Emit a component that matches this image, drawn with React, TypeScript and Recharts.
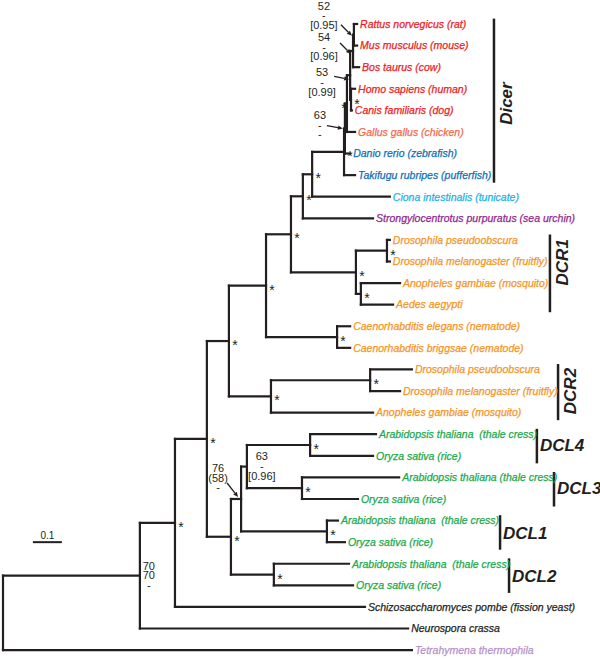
import React from 'react';
import { ScatterChart, XAxis, YAxis, Scatter, ReferenceLine } from 'recharts';

// leaves, top to bottom (row index = position in list)
const leafIds = [
  'rat', 'mouse', 'cow', 'human', 'dog', 'chicken', 'zebrafish', 'pufferfish',
  'tunicate', 'urchin', 'dpse1', 'dmel1', 'agam1', 'aaeg', 'cel', 'cbr',
  'dpse2', 'dmel2', 'agam2', 'at4', 'os4', 'at3', 'os3', 'at1', 'os1', 'at2', 'os2',
  'spom', 'ncra', 'tthe',
];
const leafLabels = [
  'Rattus norvegicus (rat)', 'Mus musculus (mouse)', 'Bos taurus (cow)', 'Homo sapiens (human)',
  'Canis familiaris (dog)', 'Gallus gallus (chicken)', 'Danio rerio (zebrafish)', 'Takifugu rubripes (pufferfish)',
  'Ciona intestinalis (tunicate)', 'Strongylocentrotus purpuratus (sea urchin)',
  'Drosophila pseudoobscura', 'Drosophila melanogaster (fruitfly)', 'Anopheles gambiae (mosquito)', 'Aedes aegypti',
  'Caenorhabditis elegans (nematode)', 'Caenorhabditis briggsae (nematode)',
  'Drosophila pseudoobscura', 'Drosophila melanogaster (fruitfly)', 'Anopheles gambiae (mosquito)',
  'Arabidopsis thaliana  (thale cress)', 'Oryza sativa (rice)',
  'Arabidopsis thaliana (thale cress)', 'Oryza sativa (rice)',
  'Arabidopsis thaliana  (thale cress)', 'Oryza sativa (rice)',
  'Arabidopsis thaliana  (thale cress)', 'Oryza sativa (rice)',
  'Schizosaccharomyces pombe (fission yeast)', 'Neurospora crassa', 'Tetrahymena thermophila',
];
const leafGroups = [
  'mammal', 'mammal', 'mammal', 'mammal', 'mammal', 'bird', 'fish', 'fish',
  'tunicate', 'urchin', 'insect', 'insect', 'insect', 'insect', 'insect', 'insect',
  'insect', 'insect', 'insect', 'plant', 'plant', 'plant', 'plant', 'plant', 'plant', 'plant', 'plant',
  'fungus', 'fungus', 'ciliate',
];
// distance from root (substitutions per site)
const leafDepths = [
  1.221, 1.221, 1.228, 1.214, 1.203, 1.214, 1.197, 1.214,
  1.334, 1.276, 1.334, 1.334, 1.369, 1.345, 1.197, 1.197,
  1.41, 1.369, 1.276, 1.286, 1.276, 1.366, 1.224, 1.155, 1.179, 1.193, 1.207,
  1.248, 1.397, 1.41,
];

// internal nodes, children listed before parents
const nodeNames = [
  'V5', 'V4', 'HD', 'V3', 'V2', 'V1', 'V0', 'K', 'J', 'R1a', 'R1b', 'R1', 'I', 'CE', 'H',
  'R2a', 'R2', 'A', 'L4', 'L3', 'G', 'L1', 'F', 'L2', 'E', 'D', 'C', 'B', 'root',
];
const nodeDepths = [
  1.21, 1.207, 1.2, 1.197, 1.186, 1.179, 1.176, 1.066, 1.034, 1.324, 1.234, 1.217, 0.993, 1.152, 0.907,
  1.266, 0.924, 0.779, 1.059, 1.031, 0.841, 1.117, 0.821, 0.934, 0.786, 0.703, 0.593, 0.472, 0,
];
const nodeChildren = [
  ['rat', 'mouse'], ['V5', 'cow'], ['human', 'dog'], ['V4', 'HD'], ['V3', 'chicken'],
  ['V2', 'zebrafish'], ['V1', 'pufferfish'], ['V0', 'tunicate'], ['K', 'urchin'],
  ['dpse1', 'dmel1'], ['agam1', 'aaeg'], ['R1a', 'R1b'], ['J', 'R1'], ['cel', 'cbr'], ['I', 'CE'],
  ['dpse2', 'dmel2'], ['R2a', 'agam2'], ['H', 'R2'], ['at4', 'os4'], ['at3', 'os3'], ['L4', 'L3'],
  ['at1', 'os1'], ['G', 'L1'], ['at2', 'os2'], ['F', 'L2'], ['A', 'E'], ['D', 'spom'], ['C', 'ncra'],
  ['B', 'tthe'],
];

// nodes marked with an asterisk
const starNodes = ['I', 'J', 'K', 'V0', 'R1a', 'R1', 'R1b', 'CE', 'H', 'R2a', 'R2', 'A', 'D', 'C',
  'L4', 'L3', 'L1', 'L2', 'E', 'HD', 'V2'];

// bootstrap / support values
const supportNodes = ['V5', 'V4', 'V3', 'V1', 'G', 'F', 'B'];
const supportTexts = [
  ['52', '-', '[0.95]'], ['54', '-', '[0.96]'], ['53', '-', '[0.99]'], ['63', '-', '-'],
  ['63', '-', '[0.96]'], ['76', '(58)', '-'], ['70', '70', '-'],
];

const cladeNames = ['Dicer', 'DCR1', 'DCR2', 'DCL4', 'DCL3', 'DCL1', 'DCL2'];
const cladeFirst = [0, 10, 16, 19, 21, 23, 25];
const cladeLast = [7, 13, 18, 20, 22, 24, 26];

const scaleBarLength = 0.1;

// ---- layout / style ----
const W = 600;
const H = 659;
const PX_PER_UNIT = 290;
const LEFT = 3;
const ROW = 21.59;
const TOP_ROW = 24;

const colors: Record<string, string> = {
  mammal: '#ed1c24', bird: '#f26a4f', fish: '#0f6fb6', tunicate: '#1ab2ea', urchin: '#92278f',
  insect: '#f7941d', plant: '#1aa94c', fungus: '#231f20', ciliate: '#b591c9',
};
const INK = '#231f20';
const LABEL_FONT = "'Liberation Sans Narrow', 'Arial Narrow', 'Liberation Sans', sans-serif";
const FONT = "'Liberation Sans', Arial, sans-serif";

const starLeft = ['V2'];
const supportOffsets: Record<string, { dx: number; dy: number; arrow?: number[] }> = {
  V5: { dx: -30, dy: -29, arrow: [-13, -10, -2, 1] },
  V4: { dx: -29, dy: -14, arrow: [-13, -8, -2, 3] },
  V3: { dx: -28, dy: -3, arrow: [-16, 1, -1, 4] },
  V1: { dx: -25, dy: -13.5, arrow: [-18, -3, -2, 0] },
  G: { dx: 15, dy: -10 },
  F: { dx: -23, dy: -31, arrow: [-14, -16, -3, -2] },
  B: { dx: 9, dy: -10 },
};
const cladeBarX = [1.693, 1.886, 1.914, 1.841, 1.9, 1.714, 1.745];
const cladeVertical = [true, true, true, false, false, false, false];
const cladeTextShift = [4, -10, 0, 0, 0, 2, 2];

// ---- tree geometry from the data ----
const pos: Record<string, { x: number; y: number }> = {};
leafIds.forEach((id, i) => { pos[id] = { x: leafDepths[i], y: i }; });
nodeNames.forEach((n, i) => {
  const ch = nodeChildren[i].map((c) => pos[c]);
  pos[n] = { x: nodeDepths[i], y: (ch[0].y + ch[ch.length - 1].y) / 2 };
});

type Seg = [{ x: number; y: number }, { x: number; y: number }];
const segments: Seg[] = [];
nodeNames.forEach((n, i) => {
  const p = pos[n];
  const ch = nodeChildren[i].map((c) => pos[c]);
  segments.push([{ x: p.x, y: ch[0].y }, { x: p.x, y: ch[ch.length - 1].y }]);
  ch.forEach((c) => segments.push([{ x: p.x, y: c.y }, { x: c.x, y: c.y }]));
});

const leafData = leafIds.map((id, i) => ({ x: leafDepths[i], y: i, label: leafLabels[i], color: colors[leafGroups[i]] }));
const starData = starNodes.map((n) => ({ ...pos[n], left: starLeft.includes(n) }));
const supportData = supportNodes.map((n, i) => ({ ...pos[n], lines: supportTexts[i], off: supportOffsets[n] }));
const cladeData = cladeNames.map((name, i) => ({
  x: cladeBarX[i], y: (cladeFirst[i] + cladeLast[i]) / 2, name, vertical: cladeVertical[i], shift: cladeTextShift[i],
}));

const LeafLabel = (p: any) => (
  <text x={p.cx + 3} y={p.cy} dy="0.36em" fontSize={10.5} fontStyle="italic" fontFamily={LABEL_FONT}
    fill={p.payload.color} stroke={p.payload.color} strokeWidth={0.25} style={{ whiteSpace: 'pre' }}>
    {p.payload.label}
  </text>
);

const Star = (p: any) => (
  <text x={p.cx + (p.payload.left ? -3 : 6)} y={p.cy + 9} fontSize={14} fontFamily={FONT}
    fill={INK} textAnchor="middle">*</text>
);

const Support = (p: any) => {
  const { lines, off } = p.payload;
  const cx = p.cx + off.dx;
  let arrow = null;
  if (off.arrow) {
    const [x0, y0, x1, y1] = off.arrow;
    const ax = p.cx + x1, ay = p.cy + y1;
    const ang = Math.atan2(y1 - y0, x1 - x0);
    const l = 5, w = 2.2;
    const bx = ax - l * Math.cos(ang), by = ay - l * Math.sin(ang);
    const nx = -Math.sin(ang) * w, ny = Math.cos(ang) * w;
    arrow = (
      <g>
        <line x1={p.cx + x0} y1={p.cy + y0} x2={bx} y2={by} stroke={INK} strokeWidth={1.3} />
        <polygon points={`${ax},${ay} ${bx + nx},${by + ny} ${bx - nx},${by - ny}`} fill={INK} />
      </g>
    );
  }
  return (
    <g>
      {lines.map((t: string, k: number) => (
        <text key={k} x={cx} y={p.cy + off.dy + k * 9.7} dy="0.35em" fontSize={11} fontFamily={FONT}
          fill={INK} textAnchor="middle">{t}</text>
      ))}
      {arrow}
    </g>
  );
};

const CladeLabel = (p: any) => {
  const d = p.payload;
  if (d.vertical) {
    const x = p.cx + 12;
    const y = p.cy + d.shift;
    return (
      <text x={x} y={y} dy="0.35em" transform={`rotate(-90 ${x} ${y})`} fontSize={17} fontWeight="bold"
        fontStyle="italic" fontFamily={FONT} fill={INK} textAnchor="middle">{d.name}</text>
    );
  }
  return (
    <text x={p.cx + 3} y={p.cy + d.shift} dy="0.35em" fontSize={17} fontWeight="bold" fontStyle="italic"
      fontFamily={FONT} fill={INK}>{d.name}</text>
  );
};

const ScaleLabel = (p: any) => (
  <text x={p.cx} y={p.cy - 3} fontSize={10} fontFamily={FONT} fill={INK} textAnchor="middle">0.1</text>
);

export default function App() {
  const scaleX0 = 0.103;
  const scaleRow = 24;
  return (
    <div style={{ position: 'absolute', left: 0, top: 0, width: W, height: H, background: '#fff' }}>
      <ScatterChart width={W} height={H} margin={{ top: 0, right: 0, bottom: 0, left: LEFT }}>
        <XAxis type="number" dataKey="x" hide domain={[0, (W - LEFT) / PX_PER_UNIT]} allowDataOverflow />
        <YAxis type="number" dataKey="y" hide reversed domain={[-TOP_ROW / ROW, (H - TOP_ROW) / ROW]} allowDataOverflow />
        {segments.map((s, i) => (
          <ReferenceLine key={'s' + i} segment={s} stroke={INK} strokeWidth={2.2} strokeLinecap="square" ifOverflow="visible" />
        ))}
        {cladeData.map((c, i) => (
          <ReferenceLine key={'c' + i}
            segment={[{ x: c.x, y: cladeFirst[i] - 0.25 }, { x: c.x, y: cladeLast[i] + 0.35 }]}
            stroke={INK} strokeWidth={2.5} ifOverflow="visible" />
        ))}
        <ReferenceLine segment={[{ x: scaleX0, y: scaleRow }, { x: scaleX0 + scaleBarLength, y: scaleRow }]}
          stroke={INK} strokeWidth={2} ifOverflow="visible" />
        <Scatter data={leafData} shape={LeafLabel} isAnimationActive={false} />
        <Scatter data={starData} shape={Star} isAnimationActive={false} />
        <Scatter data={supportData} shape={Support} isAnimationActive={false} />
        <Scatter data={cladeData} shape={CladeLabel} isAnimationActive={false} />
        <Scatter data={[{ x: scaleX0 + scaleBarLength / 2, y: scaleRow }]} shape={ScaleLabel} isAnimationActive={false} />
      </ScatterChart>
    </div>
  );
}
